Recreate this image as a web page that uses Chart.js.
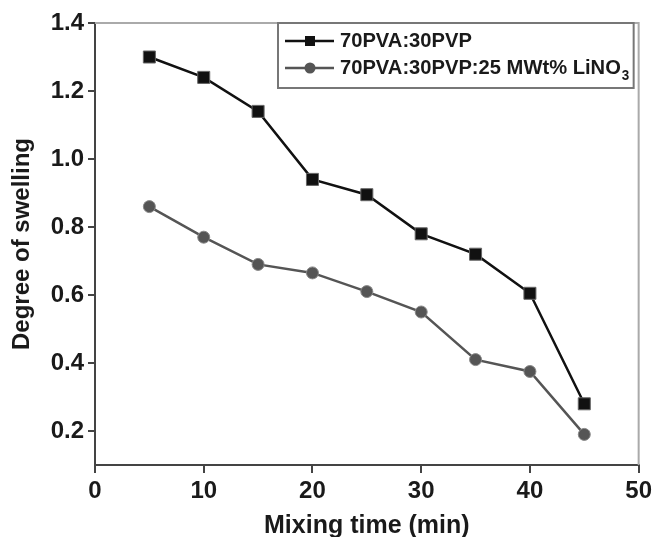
<!DOCTYPE html>
<html>
<head>
<meta charset="utf-8">
<script src="https://cdn.jsdelivr.net/npm/chart.js@4.4.1/dist/chart.umd.min.js"></script>
<style>
html,body{margin:0;padding:0;background:#fff;}
#wrap{width:656px;height:537px;position:relative;}
</style>
</head>
<body>
<div id="wrap"><canvas id="c" width="656" height="537"></canvas></div>
<script>
const mixingTime = [5, 10, 15, 20, 25, 30, 35, 40, 45];
const pvaPvp = [1.30, 1.24, 1.14, 0.94, 0.895, 0.78, 0.72, 0.605, 0.28];
const pvaPvpLiNO3 = [0.86, 0.77, 0.69, 0.665, 0.61, 0.55, 0.41, 0.375, 0.19];
const xTickValues = [0, 10, 20, 30, 40, 50];
const yTickValues = [0.2, 0.4, 0.6, 0.8, 1.0, 1.2, 1.4];
const seriesNames = ['70PVA:30PVP', '70PVA:30PVP:25 MWt% LiNO'];

const FONT = '"Liberation Sans", Arial, sans-serif';

const frameAndLegend = {
  id: 'frameAndLegend',
  afterDatasetsDraw(chart) {
    const ctx = chart.ctx;
    const a = chart.chartArea;
    ctx.save();
    ctx.strokeStyle = '#aaaaaa';
    ctx.lineWidth = 2;
    ctx.beginPath();
    ctx.moveTo(a.left, a.top);
    ctx.lineTo(a.right, a.top);
    ctx.lineTo(a.right, a.bottom);
    ctx.stroke();
    const bx = 278, by = a.top, bw = a.right - 5 - 278, bh = 65;
    ctx.fillStyle = '#fff';
    ctx.fillRect(bx, by, bw, bh);
    ctx.strokeStyle = '#777';
    ctx.lineWidth = 2;
    ctx.strokeRect(bx, by, bw, bh);
    const rows = [
      {y: by + 18, color: '#111', shape: 'square', name: seriesNames[0], sub: ''},
      {y: by + 45, color: '#555', shape: 'circle', name: seriesNames[1], sub: '3'}
    ];
    rows.forEach(r => {
      ctx.strokeStyle = r.color;
      ctx.lineWidth = 2.5;
      ctx.beginPath();
      ctx.moveTo(285, r.y);
      ctx.lineTo(334, r.y);
      ctx.stroke();
      ctx.fillStyle = r.color;
      if (r.shape === 'square') {
        ctx.fillRect(305, r.y - 5, 10, 10);
      } else {
        ctx.beginPath();
        ctx.arc(310, r.y, 5.5, 0, Math.PI * 2);
        ctx.fill();
      }
      ctx.save();
      ctx.translate(340, r.y);
      ctx.scale(0.96, 1);
      ctx.fillStyle = '#1a1a1a';
      ctx.font = 'bold 21px ' + FONT;
      ctx.textBaseline = 'middle';
      ctx.textAlign = 'left';
      ctx.fillText(r.name, 0, 0);
      if (r.sub) {
        const w = ctx.measureText(r.name).width;
        ctx.font = 'bold 14px ' + FONT;
        ctx.fillText(r.sub, w + 1, 8);
      }
      ctx.restore();
    });
    ctx.restore();
  }
};

new Chart(document.getElementById('c'), {
  type: 'line',
  data: {
    datasets: [
      {
        label: seriesNames[0],
        data: mixingTime.map((x, i) => ({x, y: pvaPvp[i]})),
        borderColor: '#111',
        backgroundColor: '#111',
        borderWidth: 2.5,
        pointStyle: 'rect',
        pointRadius: 8.5,
        pointBorderColor: '#666',
        pointBorderWidth: 1,
        tension: 0
      },
      {
        label: seriesNames[1],
        data: mixingTime.map((x, i) => ({x, y: pvaPvpLiNO3[i]})),
        borderColor: '#555',
        backgroundColor: '#555',
        borderWidth: 2.5,
        pointStyle: 'circle',
        pointRadius: 6,
        pointBorderColor: '#888',
        pointBorderWidth: 1,
        tension: 0
      }
    ]
  },
  options: {
    responsive: false,
    animation: false,
    layout: {padding: {top: 23, right: 16, left: 0, bottom: 0}},
    plugins: {legend: {display: false}, tooltip: {enabled: false}},
    scales: {
      x: {
        type: 'linear',
        min: 0, max: 50,
        afterBuildTicks: s => { s.ticks = xTickValues.map(v => ({value: v})); },
        afterFit: s => { s.height = 72; },
        grid: {drawOnChartArea: false, drawTicks: true, tickLength: 8, color: '#444', lineWidth: 2},
        border: {color: '#444', width: 2},
        ticks: {color: '#1a1a1a', font: {family: FONT, size: 24, weight: 'bold'}, padding: 4, maxRotation: 0},
        title: {display: true, text: 'Mixing time (min)', color: '#1a1a1a', font: {family: FONT, size: 25, weight: 'bold'}, padding: {top: 0, bottom: -4}}
      },
      y: {
        type: 'linear',
        min: 0.1, max: 1.4,
        afterBuildTicks: s => { s.ticks = yTickValues.map(v => ({value: v})); },
        afterFit: s => { s.width = 95; },
        grid: {drawOnChartArea: false, drawTicks: true, tickLength: 7, color: '#444', lineWidth: 2},
        border: {color: '#444', width: 2},
        ticks: {color: '#1a1a1a', font: {family: FONT, size: 24, weight: 'bold'}, padding: 4, callback: v => Number(v).toFixed(1)},
        title: {display: true, text: 'Degree of swelling', color: '#1a1a1a', font: {family: FONT, size: 24, weight: 'bold'}, padding: {top: 8, bottom: 0}}
      }
    }
  },
  plugins: [frameAndLegend]
});
</script>
</body>
</html>
